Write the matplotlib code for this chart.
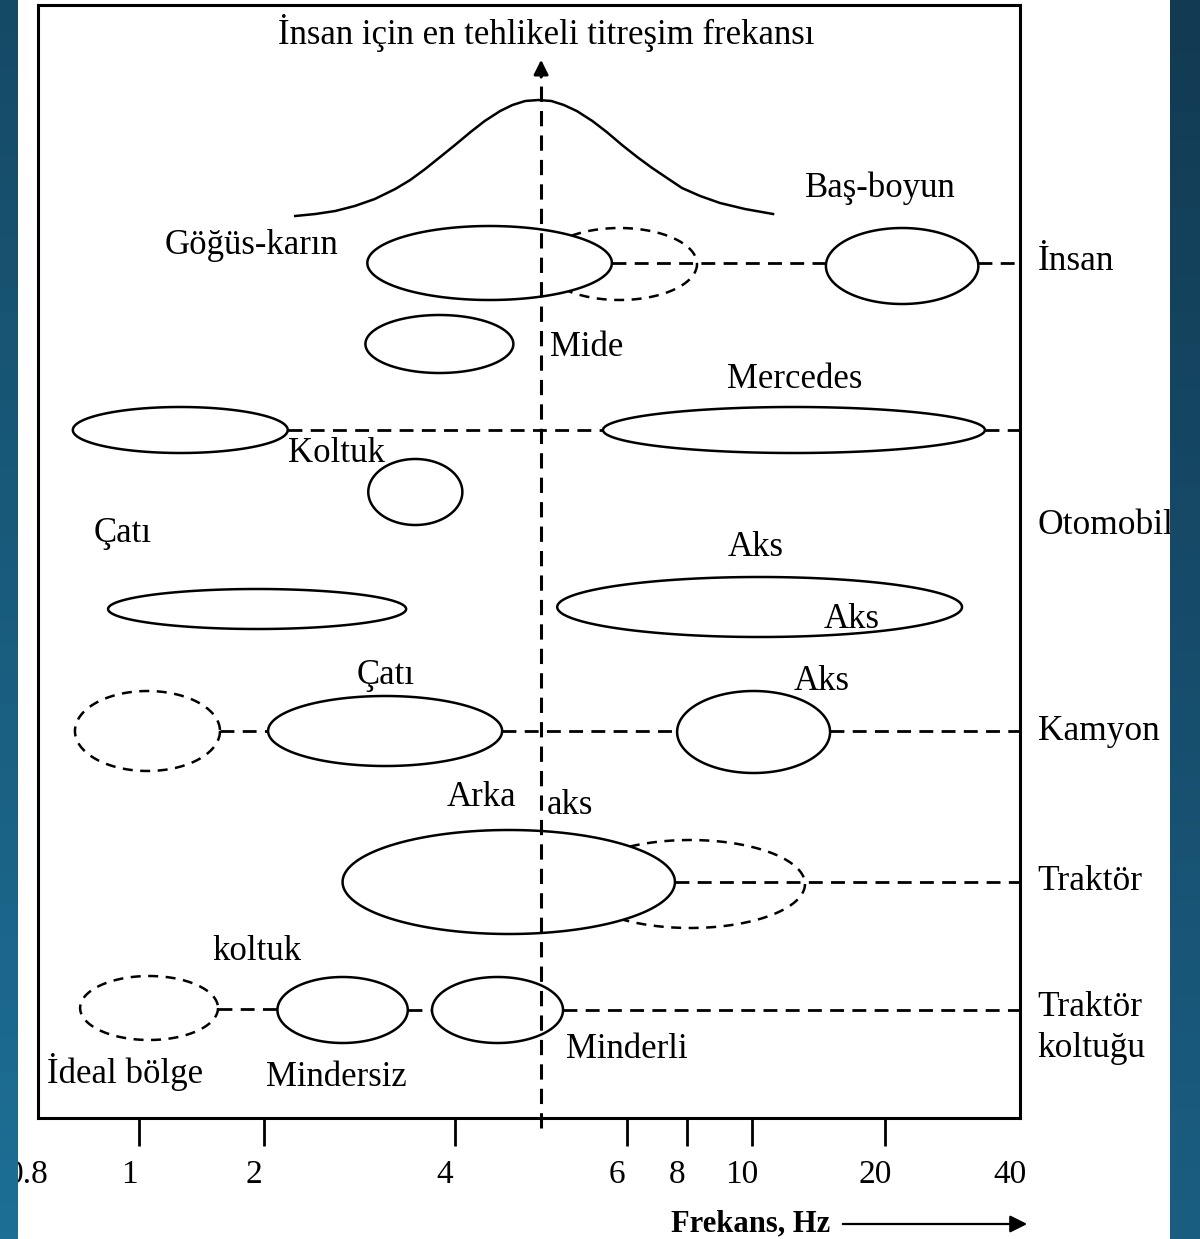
import numpy as np
import matplotlib
matplotlib.use("Agg")
import matplotlib.pyplot as plt
from matplotlib.colors import LinearSegmentedColormap
from matplotlib.transforms import ScaledTranslation
from matplotlib.ticker import NullLocator

plt.rcParams['font.family'] = ['Liberation Serif', 'DejaVu Serif']

# hand drawn frequency axis: ticks are not evenly spaced on a log scale,
# so the axis is mapped through the drawn tick positions
tick_freqs = [0.8, 1, 2, 4, 6, 8, 10, 20, 40]
tick_labels = ["0.8", "1", "2", "4", "6", "8", "10", "20", "40"]
tick_pos = [38, 139, 264, 455, 627, 687, 752, 885, 1020]

danger_freq = 4.9   # most dangerous vibration frequency for humans

# sensitivity curve of the human body
bell_f = [2.24, 2.41, 2.59, 2.78, 2.99, 3.22, 3.40, 3.59, 3.79, 4.0, 4.15,
          4.29, 4.45, 4.58, 4.72, 4.87, 5.02, 5.17, 5.33, 5.53, 5.72, 5.93,
          6.30, 6.77, 7.27, 7.81, 8.37, 8.96, 9.76, 11.16]
bell_y = [216, 214, 211, 206, 199, 189, 180, 169, 157, 145, 132,
          121, 111, 105, 101, 100, 101, 105, 111, 121, 132, 145,
          157, 168, 178, 188, 196, 203, 209, 214]

# resonance regions: (f_low, f_high, row, half height)
solid_f_lo = [2.91, 14.7, 2.89, 0.864, 5.67, 2.92, 0.934, 5.09, 2.03, 7.63, 2.66, 2.10, 3.68]
solid_f_hi = [5.79, 32.3, 4.59, 2.18, 33.4, 4.07, 3.35, 29.7, 4.47, 15.02, 7.55, 3.37, 5.16]
solid_row = [263, 266, 344, 430, 430, 492, 609, 607, 731, 732, 882, 1010, 1010]
solid_hh = [37, 38, 29, 23, 23, 33, 20, 30, 35, 41, 52, 33, 33]

dashed_f_lo = [4.91, 0.868, 5.31, 0.878]
dashed_f_hi = [8.28, 1.567, 13.18, 1.55]
dashed_row = [264, 731, 884, 1008]
dashed_hh = [36, 40, 44, 32]

# dashed links between regions: (from, to, row)
link_from = [5.79, 32.3, 2.18, 33.4, 1.567, 4.47, 15.02, 7.55, 1.55, 3.37, 5.16]
link_to = [14.7, 40, 5.67, 40, 2.03, 7.63, 40, 40, 2.10, 3.68, 40]
link_row = [263, 263, 430, 430, 731, 731, 731, 882, 1009, 1010, 1010]

part_text = ["Göğüs-karın", "Baş-boyun", "Mide", "Mercedes", "Koltuk", "Çatı", "Aks",
             "Aks", "Çatı", "Aks", "Arka", "aks", "koltuk", "İdeal bölge",
             "Mindersiz", "Minderli"]
part_f = [1.87, 19.5, 5.0, 12.5, 2.6, 0.965, 10.2, 16.8, 3.11, 14.4, 4.26, 5.25,
          1.92, 0.97, 2.6, 6.0]
part_y = [245, 188, 347, 380, 453, 533, 547, 620, 675, 681, 798, 806, 952, 1072,
          1077, 1050]
part_ha = ["center", "center", "left", "center", "center", "center", "center",
           "center", "center", "center", "center", "center", "center", "center",
           "center", "center"]

row_names = ["İnsan", "Otomobil", "Kamyon", "Traktör", "Traktör\nkoltuğu"]
row_y = [261, 525, 731, 882, 1028]

title = "İnsan için en tehlikeli titreşim frekansı"

logt = np.log10(tick_freqs)


def fwd(f):
    return np.interp(np.log10(np.clip(f, 1e-3, None)), logt, tick_pos)


def inv(u):
    return 10 ** np.interp(u, tick_pos, logt)


t = np.linspace(0, 2 * np.pi, 400)


def ellipse(f_lo, f_hi, yc, hh):
    u0, u1 = fwd(f_lo), fwd(f_hi)
    xs = inv((u0 + u1) / 2 + (u1 - u0) / 2 * np.cos(t))
    ys = yc + hh * np.sin(t)
    return xs, ys


W, H = 1200, 1239
fig = plt.figure(figsize=(W / 100, H / 100), dpi=100)
fig.patch.set_facecolor("white")

ax = fig.add_axes([38 / W, 1 - 1118 / H, (1020 - 38) / W, (1118 - 5) / H])
ax.set_xscale("function", functions=(fwd, inv))
ax.set_xlim(0.8, 40)
ax.set_ylim(1118, 5)
ax.set_yticks([])
for s in ax.spines.values():
    s.set_linewidth(2.2)

ax.set_xticks(tick_freqs)
ax.set_xticklabels(tick_labels, fontsize=24)
ax.xaxis.set_minor_locator(NullLocator())
ax.tick_params(axis="x", direction="out", length=20, width=2, pad=10)
ticks = ax.xaxis.get_major_ticks()
ticks[0].tick1line.set_visible(False)
ticks[-1].tick1line.set_visible(False)
shift = ScaledTranslation(-0.1, 0, fig.dpi_scale_trans)
for lab in ax.get_xticklabels():
    lab.set_transform(lab.get_transform() + shift)

dash = (0, (5, 3))

for lo, hi, yc, hh in zip(dashed_f_lo, dashed_f_hi, dashed_row, dashed_hh):
    xs, ys = ellipse(lo, hi, yc, hh)
    ax.plot(xs, ys, color="black", lw=1.8, ls=(0, (4, 3)), zorder=2)

for a, b, y in zip(link_from, link_to, link_row):
    ax.plot([a, b], [y, y], color="black", lw=2, ls=dash, zorder=2)

for lo, hi, yc, hh in zip(solid_f_lo, solid_f_hi, solid_row, solid_hh):
    xs, ys = ellipse(lo, hi, yc, hh)
    ax.fill(xs, ys, facecolor="white", edgecolor="black", lw=1.8, zorder=3)

ax.plot(bell_f, bell_y, color="black", lw=1.8, zorder=3,
        solid_joinstyle="round")

# dangerous frequency line
ax.plot([danger_freq, danger_freq], [1128, 72], color="black", lw=2.2,
        ls=dash, zorder=4, clip_on=False)
ax.annotate("", xy=(danger_freq, 57), xytext=(danger_freq, 80),
            arrowprops=dict(arrowstyle="-|>", color="black", lw=2,
                            mutation_scale=22), zorder=5)
ax.text(danger_freq + 0.06, 33, title, ha="center", va="center", fontsize=25)

for txt, f, y, ha in zip(part_text, part_f, part_y, part_ha):
    ax.text(f, y, txt, ha=ha, va="center", fontsize=25, zorder=6)

for name, y in zip(row_names, row_y):
    ax.text(1.018, y, name, transform=ax.get_yaxis_transform(), ha="left",
            va="center", fontsize=25.5, clip_on=False, linespacing=1.3)

fig.text(830 / W, 1 - 1224 / H, "Frekans, Hz", ha="right", va="center",
         fontsize=22, fontweight="bold")
ax.annotate("", xy=(1030, H - 1224), xytext=(840, H - 1224),
            xycoords="figure pixels", textcoords="figure pixels",
            arrowprops=dict(arrowstyle="-|>", color="black", lw=1.6,
                            mutation_scale=26), annotation_clip=False)

# dark side bands of the slide
left_cm = LinearSegmentedColormap.from_list("l", ["#154a66", "#1d6f96"])
right_cm = LinearSegmentedColormap.from_list("r", ["#123a52", "#1a5e82"])
grad = np.linspace(0, 1, 256).reshape(-1, 1)
for x0, w, cm in [(0, 18, left_cm), (1170, 30, right_cm)]:
    band = fig.add_axes([x0 / W, 0, w / W, 1], zorder=10)
    band.imshow(grad, cmap=cm, aspect="auto")
    band.axis("off")

fig.savefig("out.png", dpi=100)
